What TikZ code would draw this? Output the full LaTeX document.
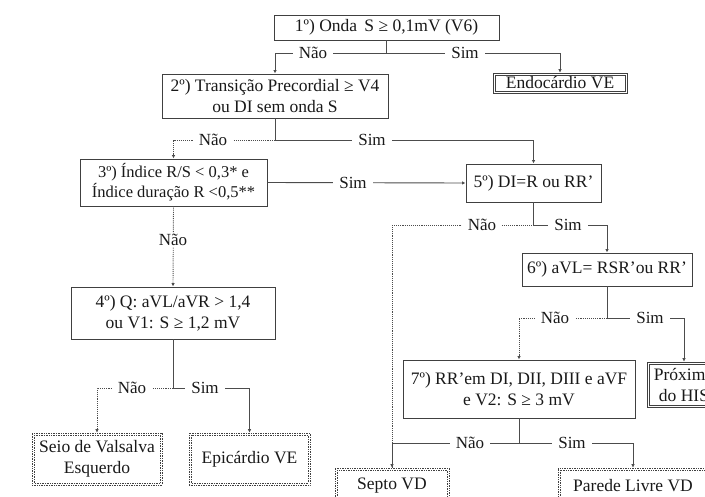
\documentclass[tikz,border=0pt]{standalone}
\usepackage{fontspec}
\setmainfont{Liberation Serif}
\usetikzlibrary{positioning,arrows.meta,calc}
\tikzset{
  node-box/.style={draw=black!75,line width=0.9pt,align=center,
    font=\fontsize{17.5}{21}\selectfont,inner sep=2pt,text=black!90},
  node-small/.style={font=\fontsize{16.5}{20}\selectfont},
  node-leaf/.style={node-box,line width=0.7pt},
  node-leaf-dot/.style={node-leaf,densely dotted},
  leaf-inner/.style={draw=black!75,line width=0.7pt},
  line-sim/.style={draw=black!70,line width=0.9pt},
  line-nao/.style={line-sim,densely dotted},
  arrow-sim/.style={line-sim,-{Latex[length=3.5pt,width=3.5pt]}},
  arrow-nao/.style={line-nao,-{Latex[length=3.5pt,width=3.5pt]}},
  branch/.style={fill=white,font=\fontsize{17}{19}\selectfont,text=black!90,
    inner xsep=6pt,inner ysep=1pt},
}

\begin{document}
\begin{tikzpicture}[x=1pt,y=-1pt]
  \useasboundingbox (0,0) rectangle (705,496);
  \clip (0,0) rectangle (705,496);

  % caixas de decisao
  \node[node-box,minimum width=225pt,minimum height=25pt] (b1) at (386.5,27.5)
    {1º) Onda\, S ≥ 0,1mV (V6)};
  \node[node-box,minimum width=226pt,minimum height=44pt] (b2) at (275,96)
    {2º) Transição Precordial ≥ V4\\ou DI sem onda S};
  \node[node-box,node-small,minimum width=187pt,minimum height=47pt] (b3) at (173.5,182.5)
    {3º) Índice R/S < 0,3* e\\Índice duração R <0,5**};
  \node[node-box,minimum width=204pt,minimum height=52pt] (b4) at (173,313)
    {4º) Q: aVL/aVR > 1,4\\ou V1: S ≥ 1,2 mV};
  \node[node-box,minimum width=135pt,minimum height=38pt] (b5) at (533.5,183)
    {5º) DI=R ou RR’};
  \node[node-box,minimum width=170pt,minimum height=33pt] (b6) at (607,269.5)
    {6º) aVL= RSR’ou RR’};
  \node[node-box,minimum width=232pt,minimum height=58pt] (b7) at (519,389)
    {7º) RR’em DI, DII, DIII e aVF\\e V2: S ≥ 3 mV};

  % localizacoes
  \node[node-leaf,minimum width=134pt,minimum height=20pt] (endo) at (560,83)
    {Endocárdio VE};
  \node[node-leaf,minimum width=74pt,minimum height=45pt] (prox) at (684,384.5)
    {Próximo\\do HIS};
  \node[node-leaf-dot,minimum width=130pt,minimum height=52pt] (seio) at (97,459)
    {Seio de Valsalva\\Esquerdo};
  \node[node-leaf-dot,minimum width=121pt,minimum height=52pt] (epi) at (249.5,459)
    {Epicárdio VE};
  \node[node-leaf-dot,minimum width=114pt,minimum height=36pt] (septo) at (392,486)
    {Septo VD};
  \node[node-leaf-dot,minimum width=150pt,minimum height=36pt] (parede) at (633,486)
    {Parede Livre VD};

  % moldura interna (linha dupla)
  \foreach \leaf in {endo,prox}
    \draw[leaf-inner] ([xshift=2.2pt,yshift=-2.2pt]\leaf.north west)
      rectangle ([xshift=-2.2pt,yshift=2.2pt]\leaf.south east);
  \foreach \leaf in {seio,epi,septo,parede}
    \draw[leaf-inner,densely dotted] ([xshift=2.2pt,yshift=-2.2pt]\leaf.north west)
      rectangle ([xshift=-2.2pt,yshift=2.2pt]\leaf.south east);

  % juncoes
  \coordinate (j1) at (386.5,53);
  \coordinate (j2) at (275,140);
  \coordinate (j4) at (173,388);
  \coordinate (j5) at (533.5,225);
  \coordinate (j6) at (607,318);
  \coordinate (j7) at (519,443);
  \coordinate (c5) at (392,225);

  \draw[line-sim] (b1.south) -- (j1);
  \draw[arrow-sim] (j1) -| (b2.north);
  \draw[arrow-sim] (j1) -| (endo.north);

  \draw[line-sim] (b2.south) -- (j2);
  \draw[arrow-nao] (j2) -| (b3.north);
  \draw[arrow-sim] (j2) -| (b5.north);

  \draw[arrow-sim] (b3.east) -- (b5.west);
  \draw[arrow-nao] (b3.south) -- (b4.north);

  \draw[line-sim] (b4.south) -- (j4);
  \draw[arrow-nao] (j4) -| (seio.north);
  \draw[arrow-sim] (j4) -| (epi.north);

  \draw[line-sim] (b5.south) -- (j5);
  \draw[line-nao] (j5) -- (c5);
  \draw[arrow-nao] (c5) -- (septo.north);
  \draw[arrow-sim] (j5) -| (b6.north);

  \draw[line-sim] (b6.south) -- (j6);
  \draw[arrow-nao] (j6) -| (b7.north);
  \draw[arrow-sim] (j6) -| (prox.north);

  \draw[line-sim] (b7.south) -- (j7);
  \draw[line-sim] (j7) -| (septo.north);
  \draw[arrow-sim] (j7) -| (parede.north);

  % rotulos
  \node[branch] (n1) at (313,53) {Não};
  \node[branch] (s1) at (465,53) {Sim};
  \node[branch] (n2) at (213,140) {Não};
  \node[branch] (s2) at (372,140) {Sim};
  \node[branch] (s3) at (353,182.5) {Sim};
  \node[branch] (n3) at (173,240) {Não};
  \node[branch] (n4) at (132,388) {Não};
  \node[branch] (s4) at (205,388) {Sim};
  \node[branch] (n5) at (482,225) {Não};
  \node[branch] (s5) at (568,225) {Sim};
  \node[branch] (n6) at (555,318) {Não};
  \node[branch] (s6) at (650,318) {Sim};
  \node[branch] (n7) at (470,443) {Não};
  \node[branch] (s7) at (572,443) {Sim};
\end{tikzpicture}
\end{document}
